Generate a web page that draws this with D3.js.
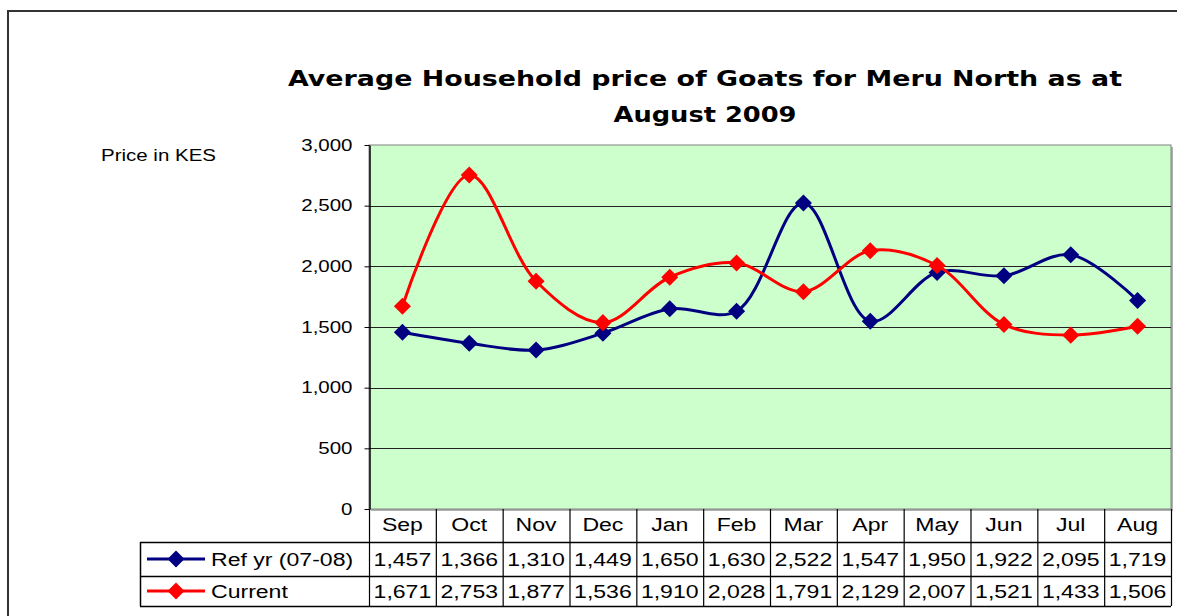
<!DOCTYPE html>
<html>
<head>
<meta charset="utf-8">
<script src="https://cdn.jsdelivr.net/npm/d3@7"></script>
<style>
  body { margin: 0; background: #fff; }
  svg { display: block; }
</style>
</head>
<body>
<svg id="chart" width="1177" height="616"></svg>
<script>
// chart data
const months = ["Sep", "Oct", "Nov", "Dec", "Jan", "Feb", "Mar", "Apr", "May", "Jun", "Jul", "Aug"];
const refYear = [1457, 1366, 1310, 1449, 1650, 1630, 2522, 1547, 1950, 1922, 2095, 1719];
const current = [1671, 2753, 1877, 1536, 1910, 2028, 1791, 2129, 2007, 1521, 1433, 1506];
const seriesNames = ["Ref yr (07-08)", "Current"];
const yTicks = [0, 500, 1000, 1500, 2000, 2500, 3000];

const svg = d3.select("#chart");
let plot = {left: 369, right: 1171, top: 145, bottom: 509};
let rowY = [509, 542, 576, 606];
let legendLeft = 140;
let colors = ["#000080", "#ff0000"];
let fmt = d3.format(",");
let arial = "'Liberation Sans', Arial, sans-serif";

// the original text is drawn a bit wider than plain Arial
function stretch(sel, k) {
	sel.each(function() {
		let w = this.getComputedTextLength();
		d3.select(this).attr("textLength", w * k).attr("lengthAdjust", "spacingAndGlyphs");
	});
}

// outer frame
svg.append("path")
	.attr("d", "M8,616 L8,11 L1177,11")
	.attr("fill", "none")
	.attr("stroke", "#333")
	.attr("stroke-width", 2);

// title
let title = svg.append("text")
	.attr("x", 705)
	.attr("text-anchor", "middle")
	.style("font-family", "'DejaVu Sans', sans-serif")
	.style("font-weight", "bold")
	.style("font-size", "21px")
	.attr("fill", "#000");
title.append("tspan").attr("x", 705).attr("y", 86)
	.attr("textLength", 834).attr("lengthAdjust", "spacingAndGlyphs")
	.text("Average Household price of Goats for Meru North as at");
title.append("tspan").attr("x", 705).attr("y", 122)
	.attr("textLength", 183).attr("lengthAdjust", "spacingAndGlyphs")
	.text("August 2009");

svg.append("text")
	.attr("x", 101).attr("y", 161)
	.style("font-family", arial)
	.style("font-size", "16px")
	.text("Price in KES")
	.call(stretch, 1.28);

var x = d3.scaleBand().domain(months).range([plot.left, plot.right]);
var y = d3.scaleLinear().domain([0, 3000]).range([plot.bottom, plot.top]);

// plot background
svg.append("rect")
	.attr("x", plot.left + 2).attr("y", plot.top + 2)
	.attr("width", plot.right - plot.left).attr("height", plot.bottom - plot.top)
	.attr("fill", "#b0b0b0");
svg.append("rect")
	.attr("x", plot.left).attr("y", plot.top)
	.attr("width", plot.right - plot.left).attr("height", plot.bottom - plot.top)
	.attr("fill", "#ccffcc")
	.attr("stroke", "#808080");

// gridlines
svg.append("g").selectAll("line")
	.data(yTicks.filter(d => d > 0 && d < 3000))
	.enter().append("line")
	.attr("x1", plot.left).attr("x2", plot.right)
	.attr("y1", d => Math.round(y(d)) + 0.5).attr("y2", d => Math.round(y(d)) + 0.5)
	.attr("stroke", "#222");

// y axis
let yAxis = svg.append("g")
	.attr("transform", "translate(" + (plot.left + 0.5) + ",0)")
	.call(d3.axisLeft(y).tickValues(yTicks).tickFormat(fmt).tickSizeInner(5).tickSizeOuter(0).tickPadding(12));
yAxis.select(".domain").attr("stroke", "#000").attr("stroke-width", 1.5);
yAxis.selectAll("text")
	.style("font-family", arial)
	.style("font-size", "16px")
	.attr("fill", "#000")
	.call(stretch, 1.28);

// series lines
let allSeries = [refYear, current];
let line = d3.line()
	.x((d, i) => x(months[i]) + x.bandwidth() / 2)
	.y(d => y(d))
	.curve(d3.curveCatmullRom.alpha(0.5));

let diamond = d3.symbol().type(d3.symbolDiamond2).size(185);

allSeries.forEach(function(values, s) {
	svg.append("path")
		.datum(values)
		.attr("d", line)
		.attr("fill", "none")
		.attr("stroke", colors[s])
		.attr("stroke-width", 3);
	svg.append("g").selectAll("path")
		.data(values)
		.enter().append("path")
		.attr("d", diamond)
		.attr("transform", (d, i) => "translate(" + (x(months[i]) + x.bandwidth() / 2) + "," + y(d) + ")")
		.attr("fill", colors[s]);
});

// data table
let table = svg.append("g")
	.style("font-family", arial)
	.style("font-size", "18px")
	.attr("fill", "#000");

// header row labels
table.selectAll("text.month")
	.data(months)
	.enter().append("text")
	.attr("class", "month")
	.attr("x", d => x(d) + x.bandwidth() / 2)
	.attr("y", 531)
	.attr("text-anchor", "middle")
	.text(d => d)
	.call(stretch, 1.28);

// horizontal rules
[rowY[1], rowY[2], rowY[3]].forEach(function(yy) {
	table.append("line")
		.attr("x1", legendLeft).attr("x2", plot.right)
		.attr("y1", yy + 0.5).attr("y2", yy + 0.5)
		.attr("stroke", "#000").attr("stroke-width", 1.5);
});
// vertical rules
let xs = months.map(m => x(m)).concat([plot.right]);
xs.forEach(function(xx) {
	table.append("line")
		.attr("x1", xx + 0.5).attr("x2", xx + 0.5)
		.attr("y1", rowY[0]).attr("y2", rowY[3])
		.attr("stroke", "#000").attr("stroke-width", 1.2);
});
table.append("line")
	.attr("x1", legendLeft + 0.5).attr("x2", legendLeft + 0.5)
	.attr("y1", rowY[1]).attr("y2", rowY[3])
	.attr("stroke", "#000").attr("stroke-width", 1.5);

allSeries.forEach(function(values, s) {
	let cy = (rowY[s + 1] + rowY[s + 2]) / 2;
	table.append("line")
		.attr("x1", 147).attr("x2", 205)
		.attr("y1", cy).attr("y2", cy)
		.attr("stroke", colors[s]).attr("stroke-width", 3);
	table.append("path")
		.attr("d", diamond)
		.attr("transform", "translate(176," + cy + ")")
		.attr("fill", colors[s]);
	table.append("text")
		.attr("x", 211).attr("y", cy + 6.5)
		.text(seriesNames[s])
		.call(stretch, 1.28);
	table.selectAll("text.v" + s)
		.data(values)
		.enter().append("text")
		.attr("class", "v" + s)
		.attr("x", (d, i) => x(months[i]) + x.bandwidth() / 2)
		.attr("y", cy + 6.5)
		.attr("text-anchor", "middle")
		.text(d => fmt(d))
		.call(stretch, 1.28);
});
</script>
</body>
</html>
